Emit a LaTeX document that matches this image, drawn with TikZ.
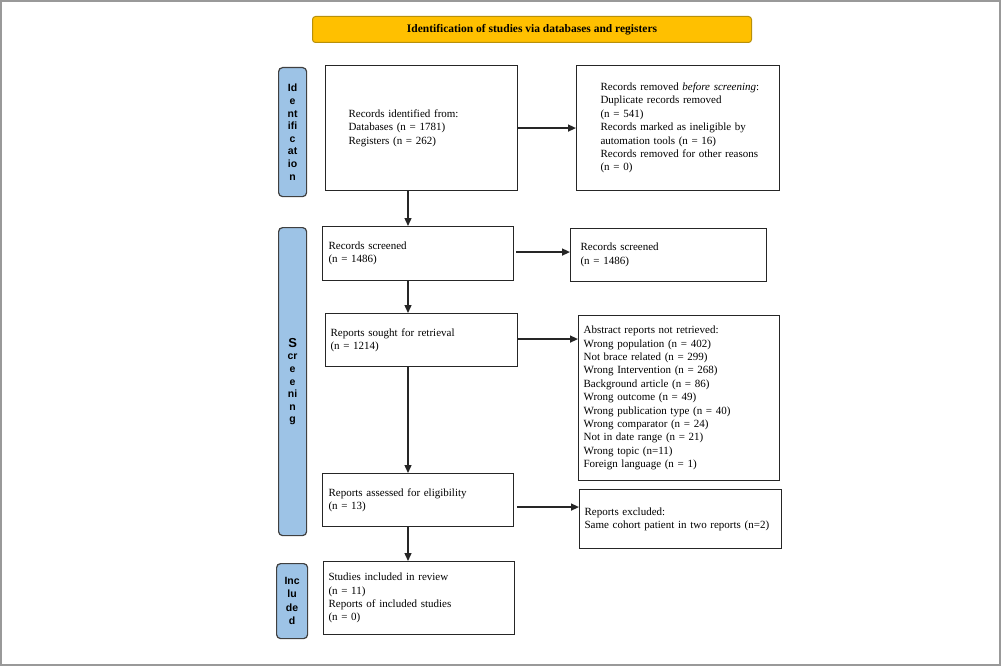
\documentclass[tikz,border=0pt]{standalone}
\usepackage{fontspec}
\setmainfont{Liberation Serif}
\setsansfont{Liberation Sans}
\usetikzlibrary{arrows.meta}
\definecolor{barblue}{HTML}{9DC3E6}
\definecolor{titlefill}{HTML}{FFC000}
\definecolor{titledraw}{HTML}{B8900A}
\newcommand{\lsk}[2]{{\leftskip=#1pt\relax #2\par}}
\begin{document}
\begin{tikzpicture}[x=1pt,y=-1pt,
 box/.style={draw=black!85,line width=1.1pt,align=left,font=\fontsize{11}{13.4}\selectfont,inner ysep=0pt,inner xsep=2pt,anchor=north west},
 bar/.style={draw=black!75,fill=barblue,rounded corners=4pt,line width=1.2pt,anchor=north west,font=\sffamily\bfseries\fontsize{10.5}{12.6}\selectfont,align=center,inner sep=0pt},
 arr/.style={-{Triangle[length=8pt,width=7pt]},line width=1.4pt,draw=black!85}]
\useasboundingbox (0,0) rectangle (1001,666);
\draw[line width=2pt,draw=black!40] (1,1) rectangle (1000,665);
% title
\node[draw=titledraw,fill=titlefill,rounded corners=3pt,line width=1pt,anchor=north west,minimum width=439pt,minimum height=26pt,inner sep=0pt,font=\bfseries\fontsize{11.5}{13}\selectfont] (title) at (312,16) {Identification of studies via databases and registers};
% side bars
\node[bar,minimum width=28pt,minimum height=129pt] (idbar) at (278,67) {Id\\e\\nt\\ifi\\c\\at\\io\\n};
\node[bar,minimum width=28pt,minimum height=308pt] (scbar) at (278,227) {{\fontsize{13}{14}\selectfont S}\\cr\\e\\e\\ni\\n\\g};
\node[bar,minimum width=31pt,minimum height=75pt,font=\sffamily\bfseries\fontsize{10.5}{13.5}\selectfont] (inbar) at (276,563) {Inc\\lu\\de\\d};
% boxes
\node[box,minimum width=192pt,minimum height=125pt,text width=188pt] (b1) at (325,65) {\lsk{21}{Records identified from:\\Databases (n = 1781)\\Registers (n = 262)}};
\node[box,minimum width=203pt,minimum height=125pt,text width=199pt] (b2) at (576,65) {\lsk{22}{Records removed \textit{before screening}:\\Duplicate records removed\\(n = 541)\\Records marked as ineligible by\\automation tools (n = 16)\\Records removed for other reasons\\(n = 0)}};
\node[box,minimum width=191pt,minimum height=54pt,text width=187pt] (rs) at (322,226) {\lsk{4}{Records screened\\(n = 1486)}};
\node[box,minimum width=196pt,minimum height=53pt,text width=192pt] (rs2) at (570,228) {\lsk{8}{Records screened\\(n = 1486)}};
\node[box,minimum width=192pt,minimum height=53pt,text width=188pt] (sought) at (325,313) {\lsk{3}{Reports sought for retrieval\\(n = 1214)}};
\node[box,minimum width=201pt,minimum height=165pt,text width=197pt] (abs) at (578,315) {\lsk{3}{Abstract reports not retrieved:\\Wrong population (n = 402)\\Not brace related (n = 299)\\Wrong Intervention (n = 268)\\Background article (n = 86)\\Wrong outcome (n = 49)\\Wrong publication type (n = 40)\\Wrong comparator (n = 24)\\Not in date range (n = 21)\\Wrong topic (n=11)\\Foreign language (n = 1)}};
\node[box,minimum width=191pt,minimum height=53pt,text width=187pt] (assess) at (322,473) {\lsk{4}{Reports assessed for eligibility\\(n = 13)}};
\node[box,minimum width=202pt,minimum height=59pt,text width=198pt] (excl) at (579,489) {\lsk{3}{Reports excluded:\\Same cohort patient in two reports (n=2)}};
\node[box,minimum width=191pt,minimum height=73pt,text width=187pt] (incl) at (323,561) {\lsk{3}{Studies included in review\\(n = 11)\\Reports of included studies\\(n = 0)}};
% connectors
\coordinate (col) at (408,0);
\draw[arr] (b1.east) -- (b2.west);
\draw[arr] ([xshift=2pt,yshift=1.5pt]rs.east) -- ([yshift=1.5pt]rs.east -| rs2.west);
\draw[arr] ([yshift=1pt]sought.east) -- ([yshift=1pt]sought.east -| abs.west);
\draw[arr] ([xshift=3pt,yshift=-7pt]assess.east) -- ([yshift=-7pt]assess.east -| excl.west);
\draw[arr] (b1.south -| col) -- (rs.north -| col);
\draw[arr] (rs.south -| col) -- (sought.north -| col);
\draw[arr] (sought.south -| col) -- (assess.north -| col);
\draw[arr] (assess.south -| col) -- (incl.north -| col);
\end{tikzpicture}
\end{document}
